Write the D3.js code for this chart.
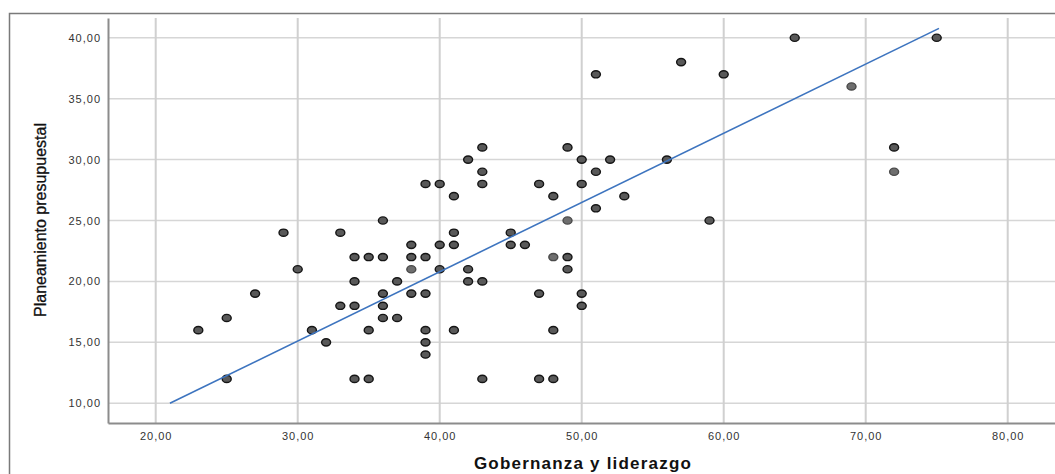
<!DOCTYPE html>
<html>
<head>
<meta charset="utf-8">
<script src="https://cdn.jsdelivr.net/npm/d3@7"></script>
<style>
  body { margin: 0; background: #fff; }
  svg { display: block; font-family: 'Liberation Sans', Arial, sans-serif; }
</style>
</head>
<body>
<div id="chart"></div>
<script>
'use strict';

// Gobernanza y liderazgo (x) vs Planeamiento presupuestal (y)
var xValues = [23, 25, 25, 27, 29, 30, 31, 32, 33, 33, 34, 34, 34, 34, 35, 35, 35,
  36, 36, 36, 36, 36, 37, 37, 38, 38, 38, 38, 39, 39, 39, 39, 39, 39, 40, 40, 40,
  41, 41, 41, 41, 42, 42, 42, 43, 43, 43, 43, 43, 45, 45, 46, 47, 47, 47, 48, 48,
  48, 48, 49, 49, 49, 49, 50, 50, 50, 50, 51, 51, 51, 52, 53, 56, 57, 59, 60, 65,
  69, 72, 72, 75];
var yValues = [16, 17, 12, 19, 24, 21, 16, 15, 24, 18, 22, 20, 18, 12, 22, 16, 12,
  25, 22, 19, 18, 17, 20, 17, 23, 22, 21, 19, 28, 22, 19, 16, 15, 14, 28, 23, 21,
  27, 24, 23, 16, 30, 21, 20, 31, 29, 28, 20, 12, 24, 23, 23, 28, 19, 12, 27, 22,
  16, 12, 31, 25, 22, 21, 30, 28, 19, 18, 37, 29, 26, 30, 27, 30, 38, 25, 37, 40,
  36, 31, 29, 40];
// points drawn lighter in the original (single cases)
var lightX = [38, 48, 49, 69, 72];
var lightY = [21, 22, 25, 36, 29];

var xTicks = [20, 30, 40, 50, 60, 70, 80];
var yTicks = [10, 15, 20, 25, 30, 35, 40];

// fit line end points
var fitX = [21, 75.16];
var fitY = [10, 40.77];

var width = 1055, height = 474;
var plot = { left: 108, right: 1055, top: 18, bottom: 423 };

var svg = d3.select('#chart')
            .append('svg')
            .attr('width', width)
            .attr('height', height);

var x = d3.scaleLinear().domain([16.64, 83.33]).range([plot.left, plot.right]);
var y = d3.scaleLinear().domain([8.38, 41.62]).range([plot.bottom, plot.top]);

var fmt = function(d) { return d3.format('.2f')(d).replace('.', ','); };

// outer frame
svg.append('path')
   .attr('d', 'M9.5,' + (height + 5) + 'V13.5H' + (width + 5))
   .attr('fill', 'none')
   .attr('stroke', '#7a7a7a')
   .attr('stroke-width', 1.5);

// grid
var grid = svg.append('g');

grid.selectAll('line.h')
    .data(yTicks)
    .enter().append('line')
    .attr('x1', plot.left)
    .attr('x2', plot.right)
    .attr('y1', function(d) { return y(d); })
    .attr('y2', function(d) { return y(d); })
    .attr('stroke', '#d6d6d6')
    .attr('stroke-width', 1.5);

grid.selectAll('line.v')
    .data(xTicks)
    .enter().append('line')
    .attr('x1', function(d) { return x(d); })
    .attr('x2', function(d) { return x(d); })
    .attr('y1', plot.top)
    .attr('y2', plot.bottom)
    .attr('stroke', '#d0d0d0')
    .attr('stroke-width', 2);

// axes
var xAxis = d3.axisBottom(x).tickValues(xTicks).tickFormat(fmt).tickSize(0).tickPadding(9);
var yAxis = d3.axisLeft(y).tickValues(yTicks).tickFormat(fmt).tickSize(0).tickPadding(7);

var gx = svg.append('g')
            .attr('transform', 'translate(0,' + plot.bottom + ')')
            .call(xAxis);
var gy = svg.append('g')
            .attr('transform', 'translate(' + plot.left + ',0)')
            .call(yAxis);

[gx, gy].forEach(function(g) {
  g.select('.domain').attr('stroke', '#8c8c8c').attr('stroke-width', 2);
  g.selectAll('text')
   .attr('fill', '#333')
   .style('font-size', '11px')
   .style('letter-spacing', '1px');
});

// axis titles
svg.append('text')
   .attr('x', 583)
   .attr('y', 469)
   .attr('text-anchor', 'middle')
   .style('font-size', '17px')
   .style('font-weight', 'bold')
   .style('letter-spacing', '1.2px')
   .attr('fill', '#111')
   .text('Gobernanza y liderazgo');

svg.append('text')
   .attr('transform', 'translate(46,220) rotate(-90)')
   .attr('text-anchor', 'middle')
   .style('font-size', '16px')
   .attr('fill', '#111')
   .attr('stroke', '#111')
   .attr('stroke-width', 0.3)
   .text('Planeamiento presupuestal');

// points
var isLight = function(i) {
  for (var k = 0; k < lightX.length; k++) {
    if (lightX[k] === xValues[i] && lightY[k] === yValues[i]) return true;
  }
  return false;
};

svg.append('g')
   .selectAll('ellipse')
   .data(xValues)
   .enter().append('ellipse')
   .attr('cx', function(d) { return x(d); })
   .attr('cy', function(d, i) { return y(yValues[i]); })
   .attr('rx', 4.5)
   .attr('ry', 3.6)
   .attr('fill', function(d, i) { return isLight(i) ? '#6e6e6e' : '#595959'; })
   .attr('stroke', function(d, i) { return isLight(i) ? '#4a4a4a' : '#151515'; })
   .attr('stroke-width', 1.4);

// fit line
svg.append('line')
   .attr('x1', x(fitX[0]))
   .attr('y1', y(fitY[0]))
   .attr('x2', x(fitX[1]))
   .attr('y2', y(fitY[1]))
   .attr('stroke', '#3d74bf')
   .attr('stroke-width', 1.6);
</script>
</body>
</html>
